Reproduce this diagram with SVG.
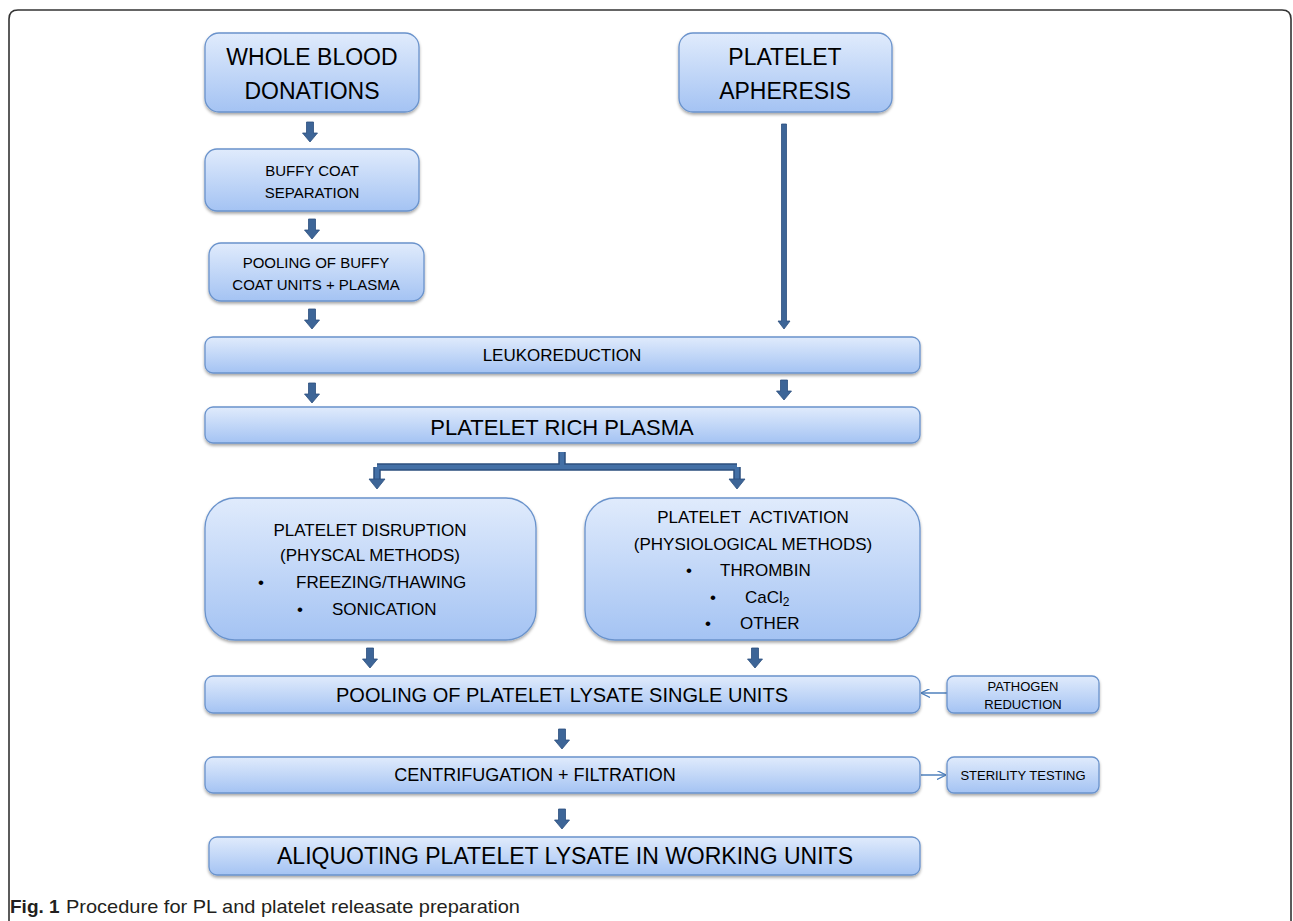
<svg xmlns="http://www.w3.org/2000/svg" width="1293" height="921" viewBox="0 0 1293 921">
<defs>
<linearGradient id="bg" x1="0" y1="0" x2="0" y2="1">
<stop offset="0" stop-color="#e0ebfc"/>
<stop offset="1" stop-color="#a4c3f3"/>
</linearGradient>
<filter id="sh" x="-10%" y="-20%" width="120%" height="150%">
<feDropShadow dx="0" dy="2" stdDeviation="1.6" flood-color="#000" flood-opacity="0.35"/>
</filter>
<path id="ba" d="M-3.5,0 H3.5 V11 H7.5 L0,20 L-7.5,11 H-3.5 Z"/>
<marker id="open" viewBox="0 0 10 10" refX="9" refY="5" markerWidth="9" markerHeight="9" markerUnits="userSpaceOnUse" orient="auto">
<path d="M0,0 L10,5 L0,10" fill="none" stroke="#4f81bd" stroke-width="1.5"/>
</marker>
</defs>
<style>
.box{fill:url(#bg);stroke:#6a93cc;stroke-width:1.3;filter:url(#sh)}
.t{font-family:"Liberation Sans",Arial,sans-serif;fill:#000;text-anchor:middle;dominant-baseline:central}
.tl{font-family:"Liberation Sans",Arial,sans-serif;fill:#000;dominant-baseline:central}
.arr{fill:#3d6597;stroke:#2c4f7e;stroke-width:0.8}
.thin{stroke:#4f81bd;stroke-width:1.5;fill:none}
</style>
<rect width="1293" height="921" fill="#fff"/>
<path d="M9,921 V19 Q9,10 18,10 H1282 Q1291,10 1291,19 V921" fill="none" stroke="#333" stroke-width="1.6"/>

<g id="connectors">
<use href="#ba" x="310" y="122" class="arr"/>
<use href="#ba" x="312" y="219" class="arr"/>
<use href="#ba" x="312" y="309" class="arr"/>
<path d="M781.5,124 H786.5 V321 H790 L784,329 L778,321 H781.5 Z" class="arr"/>
<use href="#ba" x="312" y="383" class="arr"/>
<use href="#ba" x="784" y="380" class="arr"/>
<path d="M562,452 V467 M377,467 H737 M377,467 V480 M737,467 V480" fill="none" stroke="#2c4f7e" stroke-width="7.5" stroke-linejoin="miter"/>
<path d="M562,452 V467 M377,467 H737 M377,467 V480 M737,467 V480" fill="none" stroke="#4470a6" stroke-width="4.5" stroke-linejoin="miter"/>
<path d="M369,479 H385 L377,489 Z" class="arr"/>
<path d="M729,479 H745 L737,489 Z" class="arr"/>
<use href="#ba" x="370" y="648" class="arr"/>
<use href="#ba" x="755" y="648" class="arr"/>
<line x1="947" y1="693" x2="922" y2="693" class="thin" marker-end="url(#open)"/>
<use href="#ba" x="562" y="729" class="arr"/>
<line x1="921" y1="775" x2="945" y2="775" class="thin" marker-end="url(#open)"/>
<use href="#ba" x="562" y="809" class="arr"/>
</g>

<g id="whole-blood">
<rect x="205" y="33" width="214" height="79" rx="14" class="box"/>
<text x="312" y="57" class="t" font-size="23">WHOLE BLOOD</text>
<text x="312" y="91" class="t" font-size="23">DONATIONS</text>
</g>
<g id="apheresis">
<rect x="679" y="33" width="213" height="79" rx="14" class="box"/>
<text x="785" y="57" class="t" font-size="23">PLATELET</text>
<text x="785" y="91" class="t" font-size="23">APHERESIS</text>
</g>
<g id="buffy">
<rect x="205" y="149" width="214" height="62" rx="12" class="box"/>
<text x="312" y="170" class="t" font-size="15">BUFFY COAT</text>
<text x="312" y="192" class="t" font-size="15">SEPARATION</text>
</g>
<g id="pooling-buffy">
<rect x="209" y="243" width="215" height="58" rx="12" class="box"/>
<text x="316" y="262" class="t" font-size="15">POOLING OF BUFFY</text>
<text x="316" y="284" class="t" font-size="15">COAT UNITS + PLASMA</text>
</g>
<g id="leukoreduction">
<rect x="205" y="337" width="715" height="36" rx="8" class="box"/>
<text x="562" y="355" class="t" font-size="17">LEUKOREDUCTION</text>
</g>
<g id="prp">
<rect x="205" y="407" width="715" height="36" rx="8" class="box"/>
<text x="562" y="427" class="t" font-size="22">PLATELET RICH PLASMA</text>
</g>
<g id="disruption">
<rect x="205" y="498" width="331" height="142" rx="30" class="box"/>
<text x="370" y="530" class="t" font-size="17">PLATELET DISRUPTION</text>
<text x="370" y="555" class="t" font-size="17">(PHYSCAL METHODS)</text>
<text x="261" y="582" class="t" font-size="17">•</text>
<text x="296" y="582" class="tl" font-size="17">FREEZING/THAWING</text>
<text x="300" y="609" class="t" font-size="17">•</text>
<text x="332" y="609" class="tl" font-size="17">SONICATION</text>
</g>
<g id="activation">
<rect x="585" y="498" width="335" height="142" rx="30" class="box"/>
<text x="753" y="517" class="t" font-size="17" xml:space="preserve">PLATELET  ACTIVATION</text>
<text x="753" y="544" class="t" font-size="17">(PHYSIOLOGICAL METHODS)</text>
<text x="689" y="570" class="t" font-size="17">•</text>
<text x="720" y="570" class="tl" font-size="17">THROMBIN</text>
<text x="713" y="597" class="t" font-size="17">•</text>
<text x="745" y="597" class="tl" font-size="17">CaCl<tspan font-size="12" dy="5">2</tspan></text>
<text x="708" y="623" class="t" font-size="17">•</text>
<text x="740" y="623" class="tl" font-size="17">OTHER</text>
</g>
<g id="pooling-lysate">
<rect x="205" y="676" width="715" height="37" rx="8" class="box"/>
<text x="562" y="695" class="t" font-size="20">POOLING OF PLATELET LYSATE SINGLE UNITS</text>
</g>
<g id="pathogen">
<rect x="947" y="676" width="152" height="37" rx="7" class="box"/>
<text x="1023" y="686" class="t" font-size="13">PATHOGEN</text>
<text x="1023" y="704" class="t" font-size="13">REDUCTION</text>
</g>
<g id="centrifugation">
<rect x="205" y="757" width="715" height="36" rx="8" class="box"/>
<text x="535" y="775" class="t" font-size="18">CENTRIFUGATION + FILTRATION</text>
</g>
<g id="sterility">
<rect x="947" y="757" width="152" height="36" rx="7" class="box"/>
<text x="1023" y="775" class="t" font-size="13">STERILITY TESTING</text>
</g>
<g id="aliquoting">
<rect x="209" y="837" width="711" height="38" rx="8" class="box"/>
<text x="565" y="856" class="t" font-size="23">ALIQUOTING PLATELET LYSATE IN WORKING UNITS</text>
</g>
<g id="caption">
<text x="10" y="913" font-family="'Liberation Sans',Arial,sans-serif" font-size="19" fill="#231f20"><tspan font-weight="bold">Fig. 1</tspan><tspan x="66" textLength="454" lengthAdjust="spacingAndGlyphs">Procedure for PL and platelet releasate preparation</tspan></text>
</g>
</svg>
